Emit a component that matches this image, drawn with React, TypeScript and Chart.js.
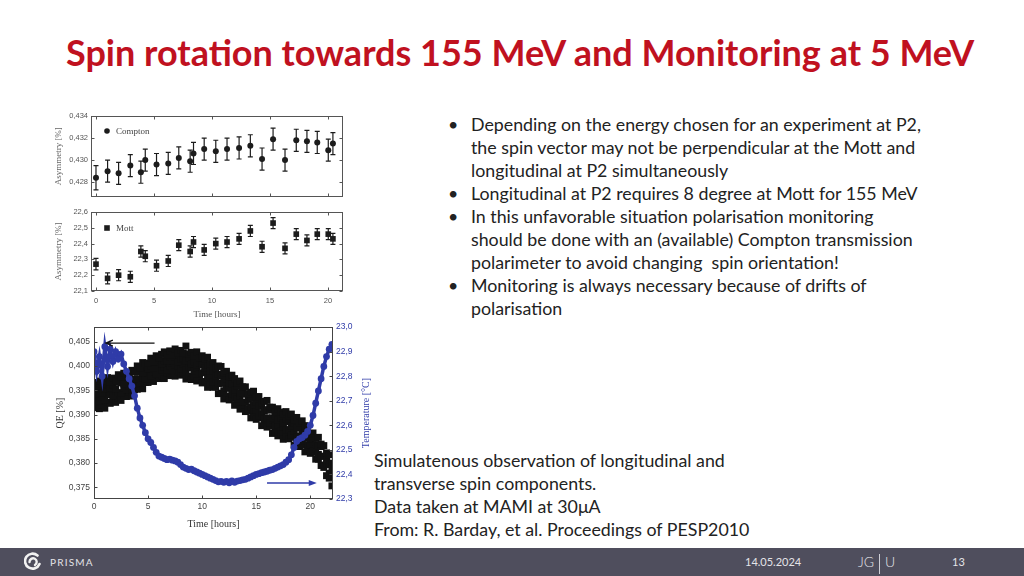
import React, { useEffect, useRef } from "react";
import { Chart, registerables } from "chart.js";

Chart.register(...registerables);

// ---------------- data ----------------
const runHours = [0, 1.0, 1.95, 2.96, 3.87, 4.25, 5.22, 6.23, 7.14, 8.12, 8.41, 9.33, 10.33, 11.3, 12.34, 13.31, 14.32, 15.27, 16.3, 17.27, 18.19, 19.08, 20.03, 20.43];
const comptonAsym = [0.4284, 0.4290, 0.4288, 0.4295, 0.4289, 0.4300, 0.4296, 0.4297, 0.4302, 0.4299, 0.4306, 0.4310, 0.4308, 0.4310, 0.4311, 0.4313, 0.4301, 0.4319, 0.4300, 0.4318, 0.4317, 0.4316, 0.4309, 0.4315];
const comptonErr = [0.0011, 0.001, 0.001, 0.001, 0.001, 0.001, 0.001, 0.001, 0.001, 0.001, 0.001, 0.001, 0.001, 0.001, 0.001, 0.001, 0.001, 0.001, 0.001, 0.001, 0.001, 0.001, 0.001, 0.001];
const mottAsym = [22.27, 22.18, 22.20, 22.19, 22.35, 22.32, 22.26, 22.29, 22.39, 22.35, 22.41, 22.36, 22.40, 22.41, 22.43, 22.48, 22.38, 22.53, 22.37, 22.46, 22.42, 22.46, 22.46, 22.43];
const mottErr = [0.036, 0.035, 0.035, 0.035, 0.035, 0.035, 0.035, 0.035, 0.035, 0.035, 0.035, 0.035, 0.035, 0.035, 0.035, 0.035, 0.035, 0.035, 0.035, 0.035, 0.035, 0.035, 0.035, 0.035];

const qeHours = [
  0, 0.25, 0.5, 0.75, 1, 1.25, 1.5, 1.75,
  2, 2.25, 2.5, 2.75, 3, 3.25, 3.5, 3.75,
  4, 4.25, 4.5, 4.75, 5, 5.25, 5.5, 5.75,
  6, 6.25, 6.5, 6.75, 7, 7.25, 7.5, 7.75,
  8, 8.25, 8.5, 8.75, 9, 9.25, 9.5, 9.75,
  10, 10.25, 10.5, 10.75, 11, 11.25, 11.5, 11.75,
  12, 12.25, 12.5, 12.75, 13, 13.25, 13.5, 13.75,
  14, 14.25, 14.5, 14.75, 15, 15.25, 15.5, 15.75,
  16, 16.25, 16.5, 16.75, 17, 17.25, 17.5, 17.75,
  18, 18.25, 18.5, 18.75, 19, 19.25, 19.5, 19.75,
  20, 20.25, 20.5, 20.75, 21, 21.25, 21.5, 21.75,
  22,
];
const temperature = [
  22.90, 22.82, 22.88, 22.80, 22.92, 22.84, 22.91, 22.86,
  22.90, 22.87, 22.89, 22.85, 22.82, 22.79, 22.76, 22.72,
  22.67, 22.63, 22.60, 22.57, 22.545, 22.53, 22.51, 22.49,
  22.475, 22.47, 22.465, 22.46, 22.462, 22.458, 22.455, 22.45,
  22.44, 22.43, 22.425, 22.42, 22.422, 22.415, 22.41, 22.405,
  22.40, 22.395, 22.39, 22.385, 22.38, 22.375, 22.37, 22.372,
  22.368, 22.372, 22.366, 22.374, 22.368, 22.373, 22.375, 22.378,
  22.38, 22.385, 22.39, 22.395, 22.40, 22.403, 22.407, 22.41,
  22.413, 22.417, 22.42, 22.425, 22.43, 22.435, 22.44, 22.45,
  22.46, 22.48, 22.51, 22.535, 22.545, 22.55, 22.56, 22.575,
  22.60, 22.64, 22.69, 22.74, 22.79, 22.84, 22.88, 22.91,
  22.93,
];
const qeRowA = [
  0.3966, 0.3959, 0.3969, 0.3963, 0.3968, 0.3976, 0.3967, 0.3975,
  0.3970, 0.3982, 0.3977, 0.3985, 0.3978, 0.3984, 0.3991, 0.3988,
  0.4000, 0.3995, 0.4007, 0.4005, 0.4006, 0.4016, 0.4009, 0.4021,
  0.4017, 0.4024, 0.4029, 0.4023, 0.4031, 0.4023, 0.4035, 0.4027,
  0.4032, 0.4027, 0.4041, 0.4025, 0.4028, 0.4021, 0.4029, 0.4016,
  0.4021, 0.4015, 0.4018, 0.4005, 0.4007, 0.3995, 0.4000, 0.3999,
  0.3986, 0.3989, 0.3978, 0.3981, 0.3974, 0.3964, 0.3969, 0.3957,
  0.3957, 0.3943, 0.3946, 0.3948, 0.3936, 0.3937, 0.3923, 0.3927,
  0.3929, 0.3915, 0.3915, 0.3905, 0.3912, 0.3905, 0.3900, 0.3906,
  0.3896, 0.3901, 0.3889, 0.3894, 0.3883, 0.3887, 0.3877, 0.3876,
  0.3860, 0.3862, 0.3851, 0.3853, 0.3839, 0.3836, 0.3821, 0.3817,
  0.3800,
];
const qeRowB = [
  0.3950, 0.3945, 0.3952, 0.3944, 0.3953, 0.3961, 0.3955, 0.3961,
  0.3953, 0.3967, 0.3965, 0.3963, 0.3972, 0.3976, 0.3971, 0.3973,
  0.3987, 0.3991, 0.3986, 0.3998, 0.3994, 0.3999, 0.3995, 0.4008,
  0.4013, 0.4004, 0.4011, 0.4010, 0.4019, 0.4011, 0.4019, 0.4009,
  0.4014, 0.4016, 0.4011, 0.4017, 0.4004, 0.4009, 0.4001, 0.4006,
  0.4002, 0.3995, 0.4001, 0.3990, 0.3992, 0.3979, 0.3983, 0.3979,
  0.3967, 0.3973, 0.3965, 0.3963, 0.3951, 0.3958, 0.3945, 0.3944,
  0.3942, 0.3931, 0.3933, 0.3920, 0.3926, 0.3917, 0.3917, 0.3907,
  0.3910, 0.3909, 0.3893, 0.3896, 0.3889, 0.3892, 0.3882, 0.3890,
  0.3885, 0.3876, 0.3882, 0.3872, 0.3874, 0.3861, 0.3864, 0.3860,
  0.3849, 0.3851, 0.3838, 0.3836, 0.3834, 0.3814, 0.3810, 0.3797,
  0.3791,
];
const qeRowC = [
  0.3930, 0.3937, 0.3928, 0.3936, 0.3930, 0.3941, 0.3945, 0.3939,
  0.3949, 0.3945, 0.3944, 0.3954, 0.3951, 0.3959, 0.3952, 0.3963,
  0.3973, 0.3965, 0.3975, 0.3973, 0.3986, 0.3980, 0.3988, 0.3984,
  0.3996, 0.3991, 0.3998, 0.3991, 0.3999, 0.3992, 0.4002, 0.3999,
  0.3994, 0.4003, 0.3992, 0.3997, 0.3996, 0.3989, 0.3995, 0.3984,
  0.3986, 0.3988, 0.3976, 0.3978, 0.3967, 0.3972, 0.3964, 0.3964,
  0.3949, 0.3954, 0.3955, 0.3942, 0.3941, 0.3932, 0.3938, 0.3925,
  0.3925, 0.3912, 0.3916, 0.3909, 0.3909, 0.3896, 0.3902, 0.3891,
  0.3893, 0.3883, 0.3888, 0.3877, 0.3878, 0.3867, 0.3874, 0.3868,
  0.3869, 0.3857, 0.3865, 0.3854, 0.3856, 0.3846, 0.3852, 0.3838,
  0.3838, 0.3825, 0.3829, 0.3818, 0.3814, 0.3796, 0.3797, 0.3779,
  0.3773,
];
const qeRowD = [
  0.3914, 0.3921, 0.3912, 0.3919, 0.3913, 0.3925, 0.3923, 0.3932,
  0.3925, 0.3933, 0.3929, 0.3941, 0.3937, 0.3947, 0.3938, 0.3951,
  0.3952, 0.3962, 0.3953, 0.3966, 0.3966, 0.3973, 0.3968, 0.3981,
  0.3974, 0.3979, 0.3974, 0.3985, 0.3980, 0.3989, 0.3979, 0.3987,
  0.3981, 0.3985, 0.3973, 0.3979, 0.3972, 0.3979, 0.3969, 0.3974,
  0.3965, 0.3968, 0.3956, 0.3963, 0.3956, 0.3957, 0.3943, 0.3944,
  0.3932, 0.3938, 0.3930, 0.3933, 0.3919, 0.3923, 0.3911, 0.3914,
  0.3906, 0.3907, 0.3893, 0.3898, 0.3890, 0.3893, 0.3877, 0.3882,
  0.3874, 0.3876, 0.3861, 0.3864, 0.3856, 0.3860, 0.3849, 0.3855,
  0.3850, 0.3853, 0.3837, 0.3841, 0.3834, 0.3837, 0.3823, 0.3828,
  0.3820, 0.3822, 0.3808, 0.3808, 0.3795, 0.3791, 0.3774, 0.3769,
  0.3753,
];
const qeArrowHours = [5.6, 1.1];
const qeArrowLevel = 0.4047;
const tempArrowHours = [16.0, 20.6];
const tempArrowLevel = 22.365;

const bulletLines = [
  { bullet: true, text: "Depending on the energy chosen for an experiment at P2," },
  { bullet: false, text: "the spin vector may not be perpendicular at the Mott and" },
  { bullet: false, text: "longitudinal at P2 simultaneously" },
  { bullet: true, text: "Longitudinal at P2 requires 8 degree at Mott for 155 MeV" },
  { bullet: true, text: "In this unfavorable situation polarisation monitoring" },
  { bullet: false, text: "should be done with an (available) Compton transmission" },
  { bullet: false, text: "polarimeter to avoid changing\u00a0 spin orientation!" },
  { bullet: true, text: "Monitoring is always necessary because of drifts of" },
  { bullet: false, text: "polarisation" },
];
const captionLines = [
  "Simulatenous observation of longitudinal and",
  "transverse spin components.",
  "Data taken at MAMI at 30\u03bcA",
  "From: R. Barday, et al. Proceedings of PESP2010",
];

// ---------------- styling ----------------
const BLUE = "#2f3ba8";
const INK = "#1c1c1c";
const TICK_FONT = "Liberation Sans";
const SERIF = "Liberation Serif";

const comma = (digits: number) => (v: any) => Number(v).toFixed(digits).replace(".", ",");

function framePlugin(color: string) {
  return {
    id: "frame",
    afterDatasetsDraw(chart: any) {
      const { ctx, chartArea: a, scales } = chart;
      ctx.save();
      ctx.strokeStyle = color;
      ctx.lineWidth = 1;
      const L = Math.round(a.left) + 0.5;
      const T = Math.round(a.top) + 0.5;
      const R = Math.round(a.right) - 0.5;
      const B = Math.round(a.bottom) - 0.5;
      ctx.strokeRect(L, T, R - L, B - T);
      const hasRight = Object.values(scales).some((s: any) => s.position === "right");
      ctx.beginPath();
      Object.values(scales).forEach((s: any) => {
        s.ticks.forEach((t: any) => {
          const p = Math.round(s.getPixelForValue(t.value)) + 0.5;
          if (s.isHorizontal()) {
            ctx.moveTo(p, B); ctx.lineTo(p, B - 3);
            ctx.moveTo(p, T); ctx.lineTo(p, T + 3);
          } else if (s.position === "left") {
            ctx.moveTo(L, p); ctx.lineTo(L + 3, p);
            if (!hasRight) { ctx.moveTo(R, p); ctx.lineTo(R - 3, p); }
          } else {
            ctx.moveTo(R, p); ctx.lineTo(R - 3, p);
          }
        });
      });
      ctx.stroke();
      ctx.restore();
    },
  };
}

function errorBarPlugin(values: number[], errors: number[]) {
  return {
    id: "errorBars",
    beforeDatasetsDraw(chart: any) {
      const { ctx } = chart;
      const meta = chart.getDatasetMeta(0);
      const ys = chart.scales.y;
      ctx.save();
      ctx.strokeStyle = INK;
      ctx.lineWidth = 1.2;
      ctx.beginPath();
      meta.data.forEach((pt: any, i: number) => {
        const x = pt.x;
        const y1 = ys.getPixelForValue(values[i] - errors[i]);
        const y2 = ys.getPixelForValue(values[i] + errors[i]);
        ctx.moveTo(x, y1); ctx.lineTo(x, y2);
        ctx.moveTo(x - 2.5, y1); ctx.lineTo(x + 2.5, y1);
        ctx.moveTo(x - 2.5, y2); ctx.lineTo(x + 2.5, y2);
      });
      ctx.stroke();
      ctx.restore();
    },
  };
}

function legendPlugin(label: string, square: boolean, dy: number) {
  return {
    id: "inlineLegend",
    afterDraw(chart: any) {
      const { ctx, chartArea: a } = chart;
      const x = a.left + 16;
      const y = a.top + dy;
      ctx.save();
      ctx.fillStyle = INK;
      ctx.beginPath();
      if (square) ctx.rect(x - 2.8, y - 2.8, 5.6, 5.6);
      else ctx.arc(x, y, 2.8, 0, Math.PI * 2);
      ctx.fill();
      ctx.font = `9px "${SERIF}"`;
      ctx.fillStyle = "#444";
      ctx.textBaseline = "middle";
      ctx.fillText(label, x + 9, y + 0.5);
      ctx.restore();
    },
  };
}

// right-axis title, written bottom-to-top like the original figure
const rightTitlePlugin = {
  id: "rightTitle",
  afterDraw(chart: any) {
    const { ctx, chartArea: a } = chart;
    const s = chart.scales.y2;
    ctx.save();
    ctx.translate(s.right - 14, (a.top + a.bottom) / 2);
    ctx.rotate(-Math.PI / 2);
    ctx.font = `10px "${SERIF}"`;
    ctx.fillStyle = BLUE;
    ctx.textAlign = "center";
    ctx.textBaseline = "middle";
    ctx.fillText("Temperature [\u00b0C]", 0, 0);
    ctx.restore();
  },
};

const arrowPlugin = {
  id: "arrows",
  afterDatasetsDraw(chart: any) {
    const { ctx, scales } = chart;
    ctx.save();
    let xa = scales.x.getPixelForValue(qeArrowHours[0]);
    let xb = scales.x.getPixelForValue(qeArrowHours[1]);
    let y = scales.y.getPixelForValue(qeArrowLevel);
    ctx.strokeStyle = "#111";
    ctx.lineWidth = 1.3;
    ctx.beginPath();
    ctx.moveTo(xa, y); ctx.lineTo(xb, y);
    ctx.moveTo(xb + 7, y - 3); ctx.lineTo(xb, y); ctx.lineTo(xb + 7, y + 3);
    ctx.stroke();
    xa = scales.x.getPixelForValue(tempArrowHours[0]);
    xb = scales.x.getPixelForValue(tempArrowHours[1]);
    y = scales.y2.getPixelForValue(tempArrowLevel);
    ctx.strokeStyle = BLUE;
    ctx.fillStyle = BLUE;
    ctx.lineWidth = 1.5;
    ctx.beginPath();
    ctx.moveTo(xa, y); ctx.lineTo(xb - 4, y);
    ctx.stroke();
    ctx.beginPath();
    ctx.moveTo(xb, y); ctx.lineTo(xb - 8, y - 3); ctx.lineTo(xb - 8, y + 3); ctx.closePath();
    ctx.fill();
    ctx.restore();
  },
};

const baseOptions = {
  responsive: false,
  animation: false as const,
  devicePixelRatio: 1,
  events: [] as any[],
  plugins: { legend: { display: false }, tooltip: { enabled: false } },
};

function buildCompton(): any {
  return {
    type: "scatter",
    data: {
      datasets: [{
        data: runHours.map((x, i) => ({ x, y: comptonAsym[i] })),
        pointStyle: "circle", pointRadius: 3, backgroundColor: INK, borderWidth: 0,
      }],
    },
    options: {
      ...baseOptions,
      layout: { padding: { top: 8, right: 7, left: 0, bottom: 0 } },
      scales: {
        x: {
          type: "linear", min: -0.43, max: 21.3,
          ticks: { display: false, stepSize: 5, includeBounds: false },
          grid: { display: false, drawTicks: false }, border: { display: false },
          afterFit: (s: any) => { s.height = 5; },
        },
        y: {
          min: 0.4267, max: 0.434,
          ticks: { stepSize: 0.002, includeBounds: false, padding: 3, color: "#555", font: { family: TICK_FONT, size: 7.5 }, callback: comma(3) },
          grid: { display: false, drawTicks: false }, border: { display: false },
          title: { display: true, text: "Asymmetry [%]", color: "#666", font: { family: SERIF, size: 9 }, padding: { top: 3, bottom: 0 } },
          afterFit: (s: any) => { s.width = 41; },
        },
      },
    },
    plugins: [errorBarPlugin(comptonAsym, comptonErr), framePlugin("#555"), legendPlugin("Compton", false, 15)],
  };
}

function buildMott(): any {
  return {
    type: "scatter",
    data: {
      datasets: [{
        data: runHours.map((x, i) => ({ x, y: mottAsym[i] })),
        pointStyle: "rect", pointRadius: 4, backgroundColor: INK, borderWidth: 0,
      }],
    },
    options: {
      ...baseOptions,
      layout: { padding: { top: 8, right: 7, left: 0, bottom: 0 } },
      scales: {
        x: {
          type: "linear", min: -0.43, max: 21.3,
          ticks: { stepSize: 5, includeBounds: false, padding: 5, color: "#555", font: { family: TICK_FONT, size: 7.5 } },
          grid: { display: false, drawTicks: false }, border: { display: false },
          title: { display: true, text: "Time [hours]", color: "#555", font: { family: SERIF, size: 9 }, padding: { top: 2, bottom: 2 } },
          afterFit: (s: any) => { s.height = 31; },
        },
        y: {
          min: 22.1, max: 22.6,
          ticks: { stepSize: 0.1, includeBounds: false, padding: 3, color: "#555", font: { family: TICK_FONT, size: 7.5 }, callback: comma(1) },
          grid: { display: false, drawTicks: false }, border: { display: false },
          title: { display: true, text: "Asymmetry [%]", color: "#666", font: { family: SERIF, size: 9 }, padding: { top: 3, bottom: 0 } },
          afterFit: (s: any) => { s.width = 41; },
        },
      },
    },
    plugins: [errorBarPlugin(mottAsym, mottErr), framePlugin("#555"), legendPlugin("Mott", true, 16)],
  };
}

function buildQE(): any {
  const qeStyle = {
    yAxisID: "y", pointStyle: "rect", pointRadius: 4.9, backgroundColor: "#111",
    borderWidth: 0, pointBorderWidth: 0, showLine: false, order: 2,
  };
  return {
    type: "scatter",
    data: {
      datasets: [
        {
          data: qeHours.map((x, i) => ({ x, y: temperature[i] })),
          yAxisID: "y2", pointStyle: "circle", pointRadius: 3.4, backgroundColor: BLUE,
          pointBorderWidth: 0, showLine: true, borderColor: BLUE, borderWidth: 3.5, order: 1,
        },
        { ...qeStyle, data: qeHours.map((x, i) => ({ x, y: qeRowA[i] })) },
        { ...qeStyle, data: qeHours.map((x, i) => ({ x, y: qeRowB[i] })) },
        { ...qeStyle, data: qeHours.map((x, i) => ({ x, y: qeRowC[i] })) },
        { ...qeStyle, data: qeHours.map((x, i) => ({ x, y: qeRowD[i] })) },
      ],
    },
    options: {
      ...baseOptions,
      layout: { padding: { top: 7, right: 0, left: 0, bottom: 0 } },
      scales: {
        x: {
          type: "linear", min: 0, max: 22.1,
          ticks: { stepSize: 5, includeBounds: false, padding: 3, color: "#444", font: { family: TICK_FONT, size: 8.5 } },
          grid: { display: false, drawTicks: false }, border: { display: false },
          title: { display: true, text: "Time [hours]", color: "#333", font: { family: SERIF, size: 10 }, padding: { top: 2, bottom: 10 } },
          afterFit: (s: any) => { s.height = 41; },
        },
        y: {
          position: "left", min: 0.3726, max: 0.408,
          ticks: { stepSize: 0.005, includeBounds: false, padding: 4, color: "#444", font: { family: TICK_FONT, size: 8.5 }, callback: comma(3) },
          grid: { display: false, drawTicks: false }, border: { display: false },
          title: { display: true, text: "QE [%]", color: "#333", font: { family: SERIF, size: 10 }, padding: { top: 4, bottom: 0 } },
          afterFit: (s: any) => { s.width = 44; },
        },
        y2: {
          position: "right", min: 22.3, max: 23.0,
          ticks: { stepSize: 0.1, includeBounds: false, padding: 3, color: BLUE, font: { family: TICK_FONT, size: 8.5 }, callback: comma(1) },
          grid: { display: false, drawTicks: false }, border: { display: false },
          afterFit: (s: any) => { s.width = 47; },
        },
      },
    },
    plugins: [framePlugin("#444"), arrowPlugin, rightTitlePlugin],
  };
}

function ChartBox({ left, top, width, height, build }: { left: number; top: number; width: number; height: number; build: () => any }) {
  const ref = useRef<HTMLCanvasElement>(null);
  useEffect(() => {
    const chart = new Chart(ref.current as HTMLCanvasElement, build());
    return () => chart.destroy();
  }, []);
  return (
    <div style={{ position: "absolute", left, top, width, height }}>
      <canvas ref={ref} width={width} height={height} style={{ width, height, display: "block" }} />
    </div>
  );
}

function PrismaLogo() {
  return (
    <svg width="18" height="20" viewBox="0 0 18 20" style={{ position: "absolute", left: 24, top: 4 }}>
      <path d="M13.5 3.5 A7.5 7.5 0 1 0 15.5 12" fill="none" stroke="#f2f2f2" strokeWidth="2.6" strokeLinecap="round" />
      <path d="M5.5 10 A3.6 3.6 0 1 1 11 13" fill="none" stroke="#f2f2f2" strokeWidth="2.4" strokeLinecap="round" />
    </svg>
  );
}

export default function App() {
  const textFont = "Lato, 'Open Sans', sans-serif";
  return (
    <div style={{ position: "absolute", left: 0, top: 0, width: 1024, height: 576, background: "#fff", overflow: "hidden", fontFamily: textFont }}>
      <div style={{ position: "absolute", left: 66, top: 31, height: 42, lineHeight: "42px", fontSize: 36, fontWeight: 700, color: "#c0111f", whiteSpace: "nowrap" }}>
        Spin rotation towards 155 MeV and Monitoring at 5 MeV
      </div>

      {bulletLines.map((l, i) => (
        <div key={i} style={{ position: "absolute", top: 124 + i * 23 - 11.5, height: 23, lineHeight: "23px", fontSize: 17.8, color: "#222", whiteSpace: "nowrap" }}>
          {l.bullet && <span style={{ position: "absolute", left: 448 }}>•</span>}
          <span style={{ position: "absolute", left: 471 }}>{l.text}</span>
        </div>
      ))}

      {captionLines.map((t, i) => (
        <div key={i} style={{ position: "absolute", left: 374, top: 460 + i * 23 - 11.5, height: 23, lineHeight: "23px", fontSize: 17.8, color: "#222", whiteSpace: "nowrap" }}>
          {t}
        </div>
      ))}

      <ChartBox left={50} top={108} width={300} height={96} build={buildCompton} />
      <ChartBox left={50} top={204} width={300} height={118} build={buildMott} />
      <ChartBox left={50} top={318} width={330} height={222} build={buildQE} />

      <div style={{ position: "absolute", left: 0, top: 548, width: 1024, height: 28, background: "#4f4e5d", color: "#e4e4e8" }}>
        <PrismaLogo />
        <div style={{ position: "absolute", left: 50, top: 0, lineHeight: "28px", fontSize: 10, letterSpacing: 1.2 }}>PRISMA</div>
        <div style={{ position: "absolute", left: 745, top: 0, lineHeight: "28px", fontSize: 11 }}>14.05.2024</div>
        <div style={{ position: "absolute", left: 858, top: 0, lineHeight: "28px", fontSize: 14, fontWeight: 300 }}>
          JG<span style={{ display: "inline-block", width: 1, height: 20, background: "#cfcfd6", margin: "0 5px", verticalAlign: "middle" }} />U
        </div>
        <div style={{ position: "absolute", left: 952, top: 0, lineHeight: "28px", fontSize: 11 }}>13</div>
      </div>
    </div>
  );
}
